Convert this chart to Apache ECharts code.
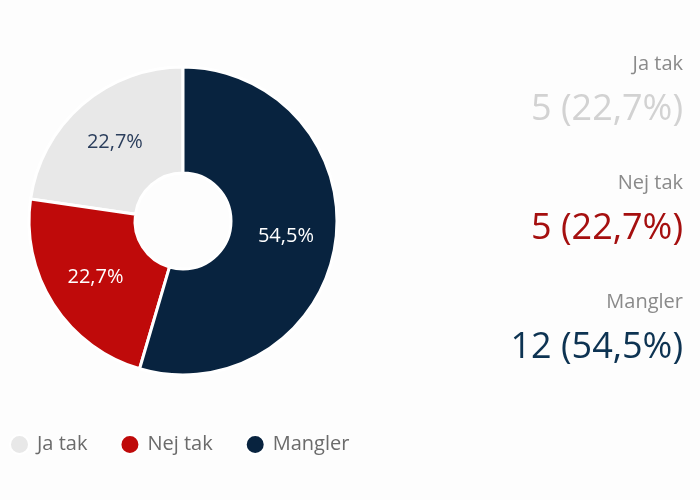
<!DOCTYPE html>
<html>
<head>
	<meta charset="utf-8">
	<title>Ja tak / Nej tak / Mangler</title>
	<script src="https://cdn.jsdelivr.net/npm/echarts@6/dist/echarts.min.js"></script>
	<style>
		html, body { margin: 0; padding: 0; background: #fdfdfd; }
	</style>
</head>
<body>
	<div id="main" style="width: 700px;height:500px;"></div>

	<script>
		// data
		var categories = ['Ja tak', 'Nej tak', 'Mangler'];
		var counts = [5, 5, 12];
		var colors = ['#e8e8e8', '#bf0a0a', '#08233f'];
		var valueColors = ['#d2d2d2', '#a50f0f', '#0d3352'];

		var total = counts.reduce(function (a, b) { return a + b; }, 0);
		function pct(v) {
			return (v / total * 100).toFixed(1).replace('.', ',') + '%';
		}

		var font = 'Open Sans';
		var myChart = echarts.init(document.getElementById('main'));

		// right-hand summary: name + "n (p%)" per category
		var titles = [];
		categories.forEach(function (name, i) {
			titles.push({
				text: name,
				right: 12,
				top: 49 + i * 119,
				textStyle: { color: '#8a8a8a', fontSize: 20, fontWeight: 'normal', fontFamily: font }
			});
			titles.push({
				text: counts[i] + ' (' + pct(counts[i]) + ')',
				right: 12,
				top: 87 + i * 119,
				textStyle: { color: valueColors[i], fontSize: 36, fontWeight: 'normal', fontFamily: font }
			});
		});

		myChart.setOption({
			color: colors,
			title: titles,
			legend: {
				left: 4,
				bottom: 40,
				icon: 'circle',
				itemWidth: 19,
				itemHeight: 19,
				itemGap: 32,
				data: categories,
				textStyle: { color: '#6b6b6b', fontSize: 20, fontFamily: font, padding: [0, 0, 0, 3] }
			},
			series: [{
				type: 'pie',
				center: [183, 221],
				radius: [48, 154],
				startAngle: 90,
				clockwise: false,
				avoidLabelOverlap: false,
				itemStyle: { borderColor: '#ffffff', borderWidth: 3 },
				label: {
					show: true,
					position: 'inside',
					fontSize: 20,
					fontFamily: font,
					color: '#ffffff',
					formatter: function (p) { return pct(p.value); }
				},
				emphasis: { disabled: true },
				data: categories.map(function (name, i) {
					var d = { name: name, value: counts[i] };
					if (i === 0) d.label = { color: '#2b3e5c' };
					return d;
				})
			}]
		});
	</script>
</body>
</html>
